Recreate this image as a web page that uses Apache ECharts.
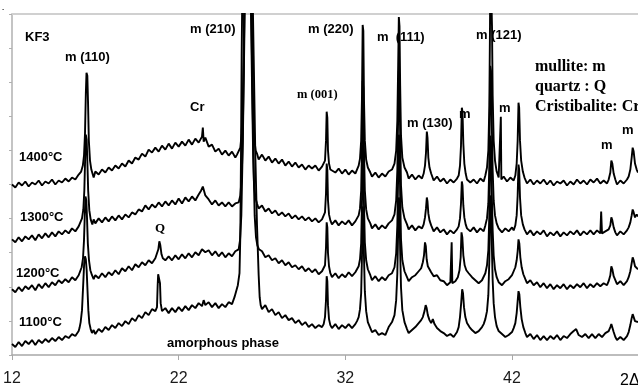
<!DOCTYPE html>
<html><head><meta charset="utf-8">
<script src="https://cdn.jsdelivr.net/npm/echarts@6/dist/echarts.min.js"></script>
<style>html,body{margin:0;padding:0;background:#fff}#c{width:638px;height:387px}</style>
</head><body><div id="c"></div>
<script>
// 2θ (deg) vs intensity (arbitrary units, offset traces)
const t1400 = [[12.0,171],[12.2,168],[12.4,173],[12.6,170],[12.8,174],[13.0,169],[13.2,173],[13.4,171],[13.6,175],[13.8,170],[14.0,174],[14.2,172],[14.4,176],[14.6,171],[14.8,175],[15.0,173],[15.2,177],[15.4,174],[15.6,178],[15.8,176],[16.0,181],
[16.15,184],[16.25,190],[16.32,200],[16.38,222],[16.43,262],[16.47,283],[16.52,280],[16.56,255],[16.61,215],[16.68,195],[16.76,186],
[16.9,178],[17.0,184],[17.2,181],[17.4,186],[17.6,183],[17.8,188],[18.0,185],[18.2,190],[18.4,187],[18.6,192],[18.8,189],[19.0,195],[19.2,192],[19.4,198],[19.6,196],[19.8,202],[20.0,199],[20.2,206],[20.4,203],[20.6,208],[20.8,204],[21.0,210],[21.2,206],[21.4,212],[21.6,207],[21.8,213],[22.0,209],[22.2,214],[22.4,210],[22.6,216],[22.8,211],[23.0,217],[23.2,213],[23.4,219],[23.45,228],[23.5,214],[23.6,218],[23.8,209],[24.0,211],[24.2,204],[24.4,207],[24.6,201],[24.8,205],[25.0,200],[25.2,204],[25.4,198],[25.5,201],
[25.6,203],[25.7,208],[25.78,222],[25.85,255],[25.9,300],[25.95,380],[26.35,380],[26.4,320],[26.44,275],[26.48,240],[26.55,215],[26.62,205],[26.7,202],
[26.8,196],[27.0,201],[27.2,195],[27.4,199],[27.6,193],[27.8,197],[28.0,192],[28.2,196],[28.4,190],[28.6,194],[28.8,189],[29.0,193],[29.2,188],[29.4,191],[29.6,186],[29.8,190],[30.0,187],[30.2,190],[30.4,185],[30.6,189],
[30.7,187],[30.78,195],[30.84,215],[30.88,244],[30.92,238],[30.96,205],[31.02,192],[31.1,186],
[31.2,188],[31.4,183],[31.6,187],[31.8,182],[32.0,186],[32.2,181],[32.4,185],[32.6,182],
[32.7,186],[32.8,190],[32.88,197],[32.95,215],[33.0,260],[33.04,331],[33.08,325],[33.12,255],[33.17,215],[33.25,196],[33.35,188],[33.5,183],
[33.6,179],[33.8,183],[34.0,178],[34.2,182],[34.4,179],[34.6,184],
[34.8,186],[34.95,192],[35.05,205],[35.12,235],[35.17,290],[35.21,339],[35.25,330],[35.29,270],[35.34,220],[35.42,198],[35.55,188],[35.7,183],
[35.8,177],[36.0,181],[36.2,176],[36.4,180],[36.6,177],
[36.7,182],[36.78,190],[36.84,203],[36.89,224],[36.93,218],[36.98,198],[37.05,188],[37.15,182],
[37.3,175],[37.5,179],[37.7,174],[37.9,177],[38.1,172],[38.3,176],[38.5,173],[38.7,177],
[38.8,180],[38.88,190],[38.94,210],[38.99,248],[39.03,244],[39.08,212],[39.14,192],[39.22,182],[39.3,176],
[39.5,173],[39.7,176],[39.9,172],[40.1,177],[40.3,174],
[40.4,180],[40.5,188],[40.58,205],[40.64,250],[40.68,330],[40.7,400],[40.78,400],[40.8,330],[40.84,260],[40.9,215],[40.98,195],[41.08,184],[41.2,178],
[41.3,176],[41.33,239],[41.36,176],[41.5,179],[41.7,174],[41.9,178],[42.1,175],
[42.2,180],[42.28,192],[42.34,215],[42.39,253],[42.43,248],[42.48,215],[42.55,195],[42.65,184],[42.75,178],
[42.9,172],[43.1,176],[43.3,171],[43.5,175],[43.7,172],[43.9,176],[44.1,171],[44.3,175],[44.5,170],[44.7,174],[44.9,172],[45.1,175],[45.3,170],[45.5,174],[45.7,171],[45.9,176],[46.1,172],[46.3,175],[46.5,171],[46.7,176],[46.9,173],[47.1,177],[47.3,172],[47.5,175],[47.7,172],
[47.8,176],[47.9,183],[47.96,195],[48.02,192],[48.1,182],[48.2,176],
[48.3,171],[48.5,175],[48.7,172],[48.9,176],[49.0,179],
[49.1,186],[49.18,198],[49.24,208],[49.3,204],[49.38,192],[49.48,186],[49.56,183]];

const t1300 = [[12.0,116],[12.2,113],[12.4,118],[12.6,114],[12.8,119],[13.0,116],[13.2,120],[13.4,115],[13.6,121],[13.8,117],[14.0,122],[14.2,118],[14.4,123],[14.6,119],[14.8,124],[15.0,121],[15.2,125],[15.4,122],[15.6,127],[15.8,124],[16.0,129],
[16.1,131],[16.2,137],[16.28,146],[16.34,165],[16.39,198],[16.43,221],[16.48,216],[16.52,195],[16.57,165],[16.64,145],[16.72,136],[16.82,131],
[16.9,136],[17.0,132],[17.2,137],[17.4,133],[17.6,138],[17.8,134],[18.0,139],[18.2,135],[18.4,140],[18.6,136],[18.8,141],[19.0,138],[19.2,143],[19.4,141],[19.6,146],[19.8,144],[20.0,150],[20.2,146],[20.4,151],[20.6,148],[20.8,153],[21.0,149],[21.2,154],[21.4,150],[21.6,155],[21.8,151],[22.0,157],[22.2,152],[22.4,158],[22.6,154],[22.8,159],[23.0,155],[23.2,161],[23.35,165],[23.45,169],[23.6,160],[23.8,156],[24.0,151],[24.2,155],[24.4,150],[24.6,153],[24.8,149],[25.0,153],[25.2,149],[25.4,152],[25.5,150],
[25.6,153],[25.7,160],[25.78,178],[25.85,215],[25.9,270],[25.95,330],[26.0,400],[26.3,400],[26.36,320],[26.42,250],[26.47,200],[26.52,172],[26.6,158],[26.7,152],
[26.8,147],[27.0,150],[27.2,144],[27.4,147],[27.6,142],[27.8,145],[28.0,140],[28.2,143],[28.4,139],[28.6,142],[28.8,137],[29.0,140],[29.2,136],[29.4,139],[29.6,135],[29.8,138],[30.0,134],[30.2,137],[30.4,133],[30.6,136],
[30.7,136],[30.78,143],[30.84,162],[30.88,192],[30.92,186],[30.96,155],[31.02,141],[31.1,135],
[31.2,131],[31.4,135],[31.6,130],[31.8,134],[32.0,131],[32.2,135],[32.4,130],[32.6,134],
[32.7,136],[32.8,140],[32.88,147],[32.95,165],[33.0,210],[33.04,275],[33.08,268],[33.12,205],[33.17,165],[33.25,146],[33.35,137],[33.5,132],
[33.6,127],[33.8,131],[34.0,126],[34.2,130],[34.4,127],[34.6,132],
[34.8,135],[34.95,141],[35.05,155],[35.12,185],[35.17,240],[35.21,285],[35.25,278],[35.29,220],[35.34,170],[35.42,148],[35.55,137],[35.7,131],
[35.8,126],[36.0,130],[36.2,125],[36.4,129],[36.6,127],
[36.7,131],[36.78,138],[36.84,147],[36.89,158],[36.93,154],[36.98,142],[37.05,135],[37.15,130],
[37.3,124],[37.5,128],[37.7,123],[37.9,126],[38.1,121],[38.3,125],[38.5,122],[38.7,126],
[38.8,129],[38.88,137],[38.94,152],[38.99,174],[39.03,170],[39.08,150],[39.14,138],[39.22,131],[39.3,127],
[39.5,124],[39.7,128],[39.9,123],[40.1,127],[40.3,124],
[40.4,130],[40.5,137],[40.58,152],[40.64,190],[40.69,290],[40.74,285],[40.79,230],[40.84,185],[40.9,155],[40.98,140],[41.08,132],[41.2,127],
[41.4,123],[41.6,127],[41.8,124],[42.0,128],[42.1,125],
[42.2,130],[42.28,140],[42.34,160],[42.39,191],[42.43,186],[42.48,158],[42.55,140],[42.65,131],[42.75,126],
[42.9,121],[43.1,125],[43.3,120],[43.5,124],[43.7,121],[43.9,125],[44.1,119],[44.3,123],[44.5,120],[44.7,124],[44.9,119],[45.1,123],[45.3,120],[45.5,124],[45.7,121],[45.9,125],[46.1,120],[46.3,124],[46.5,121],[46.7,125],[46.9,121],[47.1,125],[47.3,122],[47.35,144],[47.4,122],[47.6,124],[47.8,126],
[47.9,130],[47.96,138],[48.02,135],[48.1,128],[48.2,123],
[48.3,120],[48.5,124],[48.7,121],[48.9,125],[49.0,128],
[49.1,133],[49.18,140],[49.24,146],[49.3,143],[49.38,138],[49.48,141],[49.56,139]];

const t1200 = [[12.0,66],[12.2,63],[12.4,68],[12.6,64],[12.8,69],[13.0,66],[13.2,70],[13.4,65],[13.6,71],[13.8,67],[14.0,72],[14.2,68],[14.4,73],[14.6,70],[14.8,75],[15.0,72],[15.2,76],[15.4,73],[15.6,78],[15.8,75],[16.0,80],
[16.08,82],[16.18,88],[16.26,97],[16.32,115],[16.37,142],[16.41,159],[16.46,155],[16.5,138],[16.55,112],[16.62,95],[16.7,85],[16.8,80],
[16.9,76],[17.0,80],[17.2,77],[17.4,82],[17.6,78],[17.8,83],[18.0,80],[18.2,85],[18.4,81],[18.6,87],[18.8,84],[19.0,89],[19.2,85],[19.4,91],[19.6,88],[19.8,93],[20.0,90],[20.2,95],[20.4,92],[20.6,97],
[20.7,99],[20.78,106],[20.84,114],[20.9,110],[20.97,101],[21.05,97],
[21.2,95],[21.4,99],[21.6,95],[21.8,100],[22.0,96],[22.2,101],[22.4,97],[22.6,102],[22.8,98],[23.0,103],[23.2,100],[23.4,106],[23.5,108],[23.6,103],[23.8,105],[24.0,100],[24.2,104],[24.4,99],[24.6,103],[24.8,98],[25.0,102],[25.2,99],[25.4,104],[25.5,102],
[25.6,106],[25.68,115],[25.76,140],[25.82,190],[25.88,260],[25.94,340],[25.98,400],[26.32,400],[26.38,320],[26.44,250],[26.5,185],[26.56,140],[26.64,118],[26.72,110],[26.82,106],
[27.0,104],[27.2,98],[27.4,100],[27.6,95],[27.8,97],[28.0,92],[28.2,95],[28.4,90],[28.6,93],[28.8,88],[29.0,90],[29.2,86],[29.4,89],[29.6,84],[29.8,87],[30.0,83],[30.2,86],[30.4,81],[30.6,84],
[30.7,83],[30.78,90],[30.84,108],[30.88,133],[30.92,128],[30.96,102],[31.02,89],[31.1,82],
[31.2,78],[31.4,82],[31.6,77],[31.8,81],[32.0,78],[32.2,83],[32.4,79],[32.6,83],
[32.7,85],[32.8,89],[32.88,96],[32.95,112],[33.0,155],[33.04,211],[33.08,205],[33.12,150],[33.17,113],[33.25,95],[33.35,86],[33.5,80],
[33.6,75],[33.8,79],[34.0,74],[34.2,78],[34.4,75],[34.6,80],
[34.8,82],[34.95,88],[35.05,102],[35.12,130],[35.17,180],[35.21,221],[35.25,215],[35.29,160],[35.34,116],[35.42,95],[35.55,84],[35.7,78],
[35.8,74],[36.0,78],[36.2,80],[36.4,84],
[36.55,87],[36.65,93],[36.72,100],[36.78,113],[36.83,109],[36.88,96],[36.95,89],[37.05,86],[37.15,83],
[37.3,79],[37.5,80],[37.7,75],[37.9,74],[38.1,70],[38.3,73],[38.38,113],[38.42,72],[38.6,74],[38.75,78],
[38.85,85],[38.92,98],[38.97,123],[39.02,118],[39.08,100],[39.16,90],[39.26,85],[39.4,82],
[39.6,78],[39.8,75],[40.0,72],[40.2,75],[40.3,77],
[40.4,82],[40.5,90],[40.58,105],[40.64,140],[40.69,220],[40.74,214],[40.79,160],[40.84,125],[40.9,100],[40.98,86],[41.08,78],[41.2,73],
[41.4,70],[41.6,74],[41.8,76],[42.0,80],[42.1,84],
[42.2,88],[42.28,95],[42.34,104],[42.39,116],[42.44,112],[42.5,98],[42.58,88],[42.68,81],[42.8,76],
[42.9,72],[43.1,75],[43.3,70],[43.5,73],[43.7,68],[43.9,72],[44.1,67],[44.3,71],[44.5,66],[44.7,70],[44.9,67],[45.1,71],[45.3,66],[45.5,70],[45.7,67],[45.9,71],[46.1,68],[46.3,72],[46.5,67],[46.7,71],[46.9,68],[47.1,72],[47.3,69],[47.5,72],[47.7,70],
[47.8,74],[47.9,80],[47.96,89],[48.02,86],[48.1,79],[48.2,75],
[48.3,71],[48.5,74],[48.7,70],[48.9,74],[49.0,78],
[49.1,84],[49.18,92],[49.24,98],[49.3,95],[49.38,89],[49.48,88],[49.56,86]];

const t1100 = [[12.0,11],[12.2,8],[12.4,13],[12.6,9],[12.8,14],[13.0,11],[13.2,15],[13.4,10],[13.6,15],[13.8,12],[14.0,16],[14.2,13],[14.4,17],[14.6,14],[14.8,18],[15.0,15],[15.2,19],[15.4,17],[15.6,21],[15.8,19],[16.0,24],
[16.05,27],[16.12,33],[16.2,45],[16.27,70],[16.33,92],[16.38,99],[16.43,96],[16.48,85],[16.53,65],[16.58,45],[16.64,32],[16.72,26],
[16.8,22],[16.9,25],[17.0,21],[17.2,26],[17.4,23],[17.6,28],[17.8,25],[18.0,30],[18.2,27],[18.4,32],[18.6,29],[18.8,34],[19.0,31],[19.2,37],[19.4,34],[19.6,40],[19.8,37],[20.0,43],[20.2,40],[20.4,46],[20.6,44],
[20.7,48],[20.74,70],[20.77,81],[20.83,79],[20.88,72],[20.92,52],[21.0,44],
[21.2,47],[21.4,42],[21.6,47],[21.8,43],[22.0,48],[22.2,44],[22.4,49],[22.6,45],[22.8,50],[23.0,47],[23.2,52],[23.4,49],[23.5,55],[23.6,50],[23.8,53],[24.0,48],[24.2,52],[24.4,47],[24.6,51],[24.8,48],[25.0,53],[25.2,51],[25.35,58],[25.45,64],
[25.55,70],[25.65,82],[25.7,120],[25.74,200],[25.78,300],[25.84,400],[26.4,400],[26.5,300],[26.6,200],[26.7,130],[26.8,80],[26.86,58],[26.92,50],
[27.0,46],[27.2,50],[27.4,43],[27.6,46],[27.8,40],[28.0,43],[28.2,37],[28.4,40],[28.6,35],[28.8,37],[29.0,32],[29.2,35],[29.4,30],[29.6,33],[29.8,28],[30.0,31],[30.2,27],[30.4,30],[30.6,28],
[30.7,31],[30.78,38],[30.84,55],[30.88,79],[30.92,74],[30.96,50],[31.02,36],[31.1,30],
[31.2,27],[31.4,31],[31.6,26],[31.8,30],[32.0,27],[32.2,31],[32.4,27],[32.6,31],
[32.7,34],[32.8,38],[32.88,46],[32.95,62],[33.0,100],[33.04,149],[33.08,143],[33.12,98],[33.17,64],[33.25,44],[33.35,33],[33.5,27],
[33.6,23],[33.8,25],[34.0,20],[34.2,22],[34.4,20],[34.6,28],
[34.8,33],[34.95,40],[35.05,55],[35.12,82],[35.17,125],[35.21,158],[35.25,152],[35.29,105],[35.34,68],[35.42,45],[35.55,33],[35.7,26],
[35.8,22],[36.0,25],[36.2,28],[36.4,32],
[36.55,35],[36.65,38],[36.75,44],[36.82,50],[36.88,47],[36.95,40],[37.05,35],[37.15,32],[37.25,36],[37.35,31],
[37.5,27],[37.7,24],[37.9,22],[38.1,19],[38.3,21],[38.5,18],[38.7,23],
[38.8,28],[38.88,38],[38.95,52],[39.01,66],[39.06,62],[39.12,48],[39.2,38],[39.3,32],[39.45,28],
[39.6,25],[39.8,22],[40.0,24],[40.2,28],[40.3,31],
[40.4,36],[40.5,44],[40.58,60],[40.64,95],[40.69,160],[40.74,155],[40.79,110],[40.84,75],[40.9,52],[40.98,38],[41.08,29],[41.2,24],
[41.4,21],[41.6,18],[41.8,20],[42.0,23],[42.1,27],
[42.2,32],[42.28,42],[42.34,54],[42.39,64],[42.44,61],[42.5,48],[42.58,36],[42.68,28],[42.8,22],
[42.9,18],[43.1,21],[43.3,16],[43.5,20],[43.7,15],[43.9,19],[44.1,15],[44.3,19],[44.5,16],[44.7,20],[44.9,15],[45.1,19],[45.3,17],[45.5,21],[45.7,24],[45.85,26],[46.0,20],[46.2,18],[46.4,21],[46.6,17],[46.8,21],[47.0,17],[47.2,21],[47.4,18],[47.6,22],[47.8,24],
[47.9,28],[47.96,31],[48.02,29],[48.1,23],[48.2,18],
[48.3,15],[48.5,18],[48.7,15],[48.9,19],[49.0,23],
[49.1,30],[49.18,37],[49.24,41],[49.3,38],[49.38,34],[49.48,35],[49.56,33]];

const xTickValues = [12, 22, 32, 42];
const seriesNames = ['1400°C', '1300°C', '1200°C', '1100°C'];
const seriesData = [t1400, t1300, t1200, t1100];

const SANS = 'bold 13px "Liberation Sans", Arial, sans-serif';
const SERIF = 'bold 12.5px "Liberation Serif", "Times New Roman", serif';
const SERIF_L = 'bold 16px "Liberation Serif", "Times New Roman", serif';
function txt(text, x, y, font) {
  return { type: 'text', x: x, y: y, silent: true, z: 100,
    style: { text: text, font: font, fill: '#000', verticalAlign: 'middle', align: 'left' } };
}

const chart = echarts.init(document.getElementById('c'), null, { renderer: 'canvas' });
chart.setOption({
  animation: false,
  backgroundColor: '#fff',
  grid: { left: 12, right: 0, top: 14, bottom: 31, containLabel: false },
  xAxis: [{
    type: 'value', min: 12, max: 49.56, interval: 10,
    axisLine: { show: true, lineStyle: { color: '#a8a8a8', width: 1.5 } },
    axisTick: { show: true, length: 5, lineStyle: { color: '#a8a8a8' } },
    axisLabel: { show: true, margin: 16, fontSize: 16, color: '#1a1a1a', fontFamily: '"Liberation Sans", Arial, sans-serif',
      showMaxLabel: false,
      formatter: function (v) { return xTickValues.indexOf(v) >= 0 ? String(v) : ''; } },
    splitLine: { show: false }
  }, {
    type: 'value', position: 'top', min: 12, max: 49.56,
    axisLine: { show: true, lineStyle: { color: '#d0d0d0', width: 2 } },
    axisTick: { show: false }, axisLabel: { show: false }, splitLine: { show: false }
  }],
  yAxis: {
    type: 'value', min: 0, max: 342, interval: 34.2,
    axisLine: { show: true, lineStyle: { color: '#b0b0b0', width: 1.5 } },
    axisTick: { show: true, length: 3, lineStyle: { color: '#b0b0b0' } },
    axisLabel: { show: false }, splitLine: { show: false }
  },
  series: seriesData.map(function (d, i) {
    return { name: seriesNames[i], type: 'line', data: d, showSymbol: false, symbol: 'none',
      clip: true, lineStyle: { color: '#000', width: 1.9 }, z: 10 };
  }),
  graphic: [
    txt('-', 2, 9, '7px "Liberation Sans", Arial, sans-serif'),
    txt('KF3', 25, 37, SANS),
    txt('m (110)', 65, 57, SANS),
    txt('m (210)', 190, 29, SANS),
    txt('Cr', 190, 107, SANS),
    txt('m (220)', 308, 29, SANS),
    txt('m (001)', 297, 95, SERIF),
    txt('m  (111)', 377, 37, SANS),
    txt('m (130)', 407, 123, SANS),
    txt('m', 459, 114, SANS),
    txt('m (121)', 476, 35, SANS),
    txt('m', 499, 108, SANS),
    txt('mullite: m', 535, 67, SERIF_L),
    txt('quartz : Q', 535, 87, SERIF_L),
    txt('Cristibalite: Cr', 535, 107, SERIF_L),
    txt('m', 601, 145, SANS),
    txt('m', 622, 130, SANS),
    txt('1400°C', 19, 157, SANS),
    txt('1300°C', 20, 217, SANS),
    txt('Q', 155, 229, 'bold 13px "Liberation Serif", "Times New Roman", serif'),
    txt('1200°C', 16, 273, SANS),
    txt('1100°C', 19, 322, SANS),
    txt('amorphous phase', 167, 343, SANS),
    txt('2Δ', 620, 381, '16px "Liberation Sans", Arial, sans-serif')
  ]
});
</script></body></html>
